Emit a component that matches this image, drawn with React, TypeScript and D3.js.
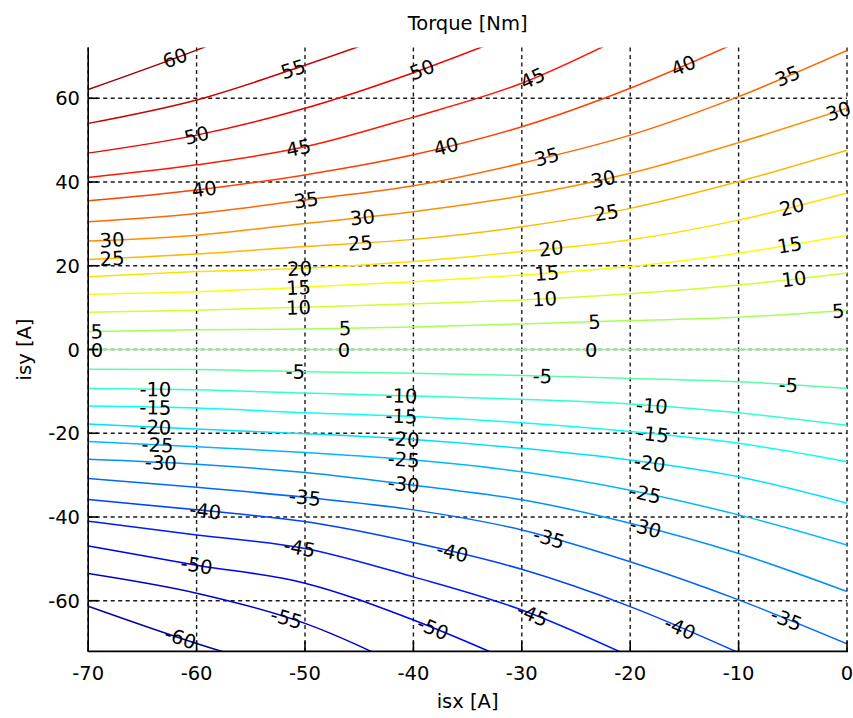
import React from 'react';
import * as d3 from 'd3';

const isx = [-70, -60, -50, -40, -30, -20, -10, 0];

// isy of each torque contour at the isx grid (lines leave the axes early)
const t60 = [62.1, 71.5, 82];
const t55 = [54.0, 59.6, 67.9, 77];
const t50 = [46.9, 51.2, 57.6, 66.1, 76];
const t45 = [41.1, 44.1, 48.4, 55.5, 63.6, 75.5];
const t40 = [35.5, 38.1, 41.7, 46.5, 53.2, 62.4, 73.5];
const t35 = [30.5, 32.5, 35.7, 39.1, 44.5, 51.2, 60.4, 71.4];
const t30 = [25.9, 27.3, 30.1, 32.9, 36.7, 42.1, 49.4, 57.6];
const t25 = [21.5, 22.8, 24.6, 26.3, 29.3, 33.7, 40.1, 47.6];
const t20 = [17.4, 18.6, 19.4, 21.0, 23.4, 26.2, 30.9, 37.4];
const t15 = [13.2, 13.8, 14.9, 16.2, 17.8, 19.8, 23.0, 27.3];
const t10 = [8.9, 9.4, 10.1, 10.9, 11.8, 13.3, 15.4, 18.3];
const t5 = [4.3, 4.7, 4.9, 5.4, 6.1, 6.9, 7.7, 9.4];
const t0 = [0, 0, 0, 0, 0, 0, 0, 0];
const tm5 = [-4.7, -4.8, -5.3, -5.7, -6.2, -6.9, -7.7, -9.3];
const tm10 = [-9.3, -9.6, -10.4, -11.1, -11.9, -13.0, -15.1, -18.1];
const tm15 = [-13.5, -14.0, -15.1, -16.0, -17.5, -19.6, -22.4, -26.8];
const tm20 = [-17.8, -19.0, -20.1, -21.5, -23.6, -26.4, -30.4, -36.7];
const tm25 = [-22.0, -23.2, -24.6, -26.4, -29.2, -33.6, -39.5, -46.7];
const tm30 = [-26.2, -27.4, -29.4, -32.4, -35.9, -41.5, -48.7, -57.8];
const tm35 = [-30.8, -32.9, -35.3, -38.3, -43.1, -50.7, -59.8, -70.3];
const tm40 = [-35.8, -38.3, -41.1, -46.1, -52.5, -61.4, -72.4];
const tm45 = [-41.0, -44.3, -47.5, -54.3, -62.2, -73.3];
const tm50 = [-46.9, -51.5, -55.8, -64.6, -75.5];
const tm55 = [-53.5, -58.2, -65.4, -77];
const tm60 = [-61.3, -70.2, -78];

const levels = [60, 55, 50, 45, 40, 35, 30, 25, 20, 15, 10, 5, 0,
  -5, -10, -15, -20, -25, -30, -35, -40, -45, -50, -55, -60];
const levelIsy = [t60, t55, t50, t45, t40, t35, t30, t25, t20, t15, t10, t5, t0,
  tm5, tm10, tm15, tm20, tm25, tm30, tm35, tm40, tm45, tm50, tm55, tm60];

// contour labels: level and the isx where the label sits
const labelLevel = [
  60, 55, 50, 50, 45, 45, 40, 40, 40, 35, 35, 35, 30, 30, 30, 30, 25, 25, 25,
  20, 20, 20, 15, 15, 15, 10, 10, 10, 5, 5, 5, 5, 0, 0, 0,
  -5, -5, -5, -10, -10, -10, -15, -15, -15, -20, -20, -20, -25, -25, -25,
  -30, -30, -30, -35, -35, -35, -40, -40, -40, -45, -45, -50, -50, -55, -60,
];
const labelIsx = [
  -62.0, -51.1, -60.0, -39.2, -50.6, -29.0, -59.3, -37.0, -15.1, -49.9, -27.7, -5.5,
  -67.8, -44.7, -22.5, -0.8, -67.8, -44.9, -22.2,
  -50.5, -27.3, -5.1, -50.6, -27.7, -5.3, -50.6, -27.9, -4.9,
  -69.2, -46.3, -23.3, -0.8, -69.2, -46.4, -23.6,
  -50.9, -28.1, -5.4, -63.8, -41.1, -18.0, -63.8, -41.1, -17.9,
  -63.8, -40.9, -18.2, -63.6, -40.9, -18.6,
  -63.3, -40.9, -18.6, -50.0, -27.5, -5.6, -59.2, -36.4, -15.4,
  -50.5, -29.0, -60.0, -38.2, -51.7, -61.5,
];

const xTicks = [-70, -60, -50, -40, -30, -20, -10, 0];
const yTicks = [-60, -40, -20, 0, 20, 40, 60];

const W = 853;
const H = 718;
const left = 88.2;
const right = 847;
const top = 47.6;
const bottom = 651.4;
const font = '"DejaVu Sans", Verdana, sans-serif';
const fs = 19.5;

const x = d3.scaleLinear().domain([-70, 0]).range([left, right]);
const y = d3.scaleLinear().domain([-72.1, 72.1]).range([bottom, top]);

// MATLAB jet colormap over the torque range
const jet = (v: number) => {
  const t = (v + 64) / 128;
  const c = (k: number) =>
    Math.round(255 * Math.max(0, Math.min(1, 1.5 - Math.abs(4 * t - k))));
  return `rgb(${c(3)},${c(2)},${c(1)})`;
};

const line = d3
  .line<number>()
  .x((_, i) => x(isx[i]))
  .y((d) => y(d))
  .curve(d3.curveMonotoneX);

const isyAt = (arr: number[], v: number) => {
  let i = Math.floor((v + 70) / 10);
  i = Math.max(0, Math.min(arr.length - 2, i));
  const f = (v - isx[i]) / 10;
  return arr[i] + (arr[i + 1] - arr[i]) * f;
};

export default function App() {
  const gridColor = '#1a1a1a';
  return (
    <svg
      width={W}
      height={H}
      style={{ position: 'absolute', left: 0, top: 0, background: '#fff' }}
      fontFamily={font}
    >
      <defs>
        <clipPath id="plot">
          <rect x={left} y={top} width={right - left} height={bottom - top} />
        </clipPath>
      </defs>

      {/* grid */}
      <g stroke={gridColor} strokeWidth={1.4} strokeDasharray="4,3.5">
        {xTicks.map((t) => (
          <line key={'gx' + t} x1={x(t)} x2={x(t)} y1={top} y2={bottom} />
        ))}
        {yTicks.map((t) => (
          <line key={'gy' + t} x1={left} x2={right} y1={y(t)} y2={y(t)} />
        ))}
      </g>

      {/* contour lines */}
      <g clipPath="url(#plot)" fill="none" strokeWidth={1.5}>
        {levels.map((lv, k) => (
          <path key={lv} d={line(levelIsy[k]) || ''} stroke={jet(lv)} />
        ))}
      </g>

      {/* contour labels */}
      <g fontSize={fs} fill="#000" textAnchor="middle">
        {labelLevel.map((lv, k) => {
          const arr = levelIsy[levels.indexOf(lv)];
          const px = labelIsx[k];
          const py = isyAt(arr, px);
          const dx = x(px + 1) - x(px);
          const dy = y(isyAt(arr, px + 1)) - y(py);
          const ang = (Math.atan2(dy, dx) * 180) / Math.PI;
          return (
            <text
              key={'l' + k}
              transform={`translate(${x(px)},${y(py)}) rotate(${ang})`}
              dy="0.36em"
            >
              {lv}
            </text>
          );
        })}
      </g>

      {/* axes */}
      <g stroke="#000" strokeWidth={1.6}>
        <line x1={left} x2={left} y1={top} y2={bottom} />
        <line x1={left} x2={right + 1} y1={bottom} y2={bottom} />
        {xTicks.map((t) => (
          <line key={'tx' + t} x1={x(t)} x2={x(t)} y1={bottom} y2={bottom - 10} />
        ))}
        {yTicks.map((t) => (
          <line key={'ty' + t} x1={left} x2={left + 10} y1={y(t)} y2={y(t)} />
        ))}
      </g>

      <g fontSize={fs} fill="#000">
        {xTicks.map((t) => (
          <text key={'xl' + t} x={x(t)} y={680} textAnchor="middle">
            {t}
          </text>
        ))}
        {yTicks.map((t) => (
          <text key={'yl' + t} x={80} y={y(t) + 7} textAnchor="end">
            {t}
          </text>
        ))}
        <text x={(left + right) / 2} y={30} textAnchor="middle">
          Torque [Nm]
        </text>
        <text x={(left + right) / 2} y={708} textAnchor="middle">
          isx [A]
        </text>
        <text
          transform={`translate(31,${(top + bottom) / 2}) rotate(-90)`}
          textAnchor="middle"
        >
          isy [A]
        </text>
      </g>
    </svg>
  );
}
